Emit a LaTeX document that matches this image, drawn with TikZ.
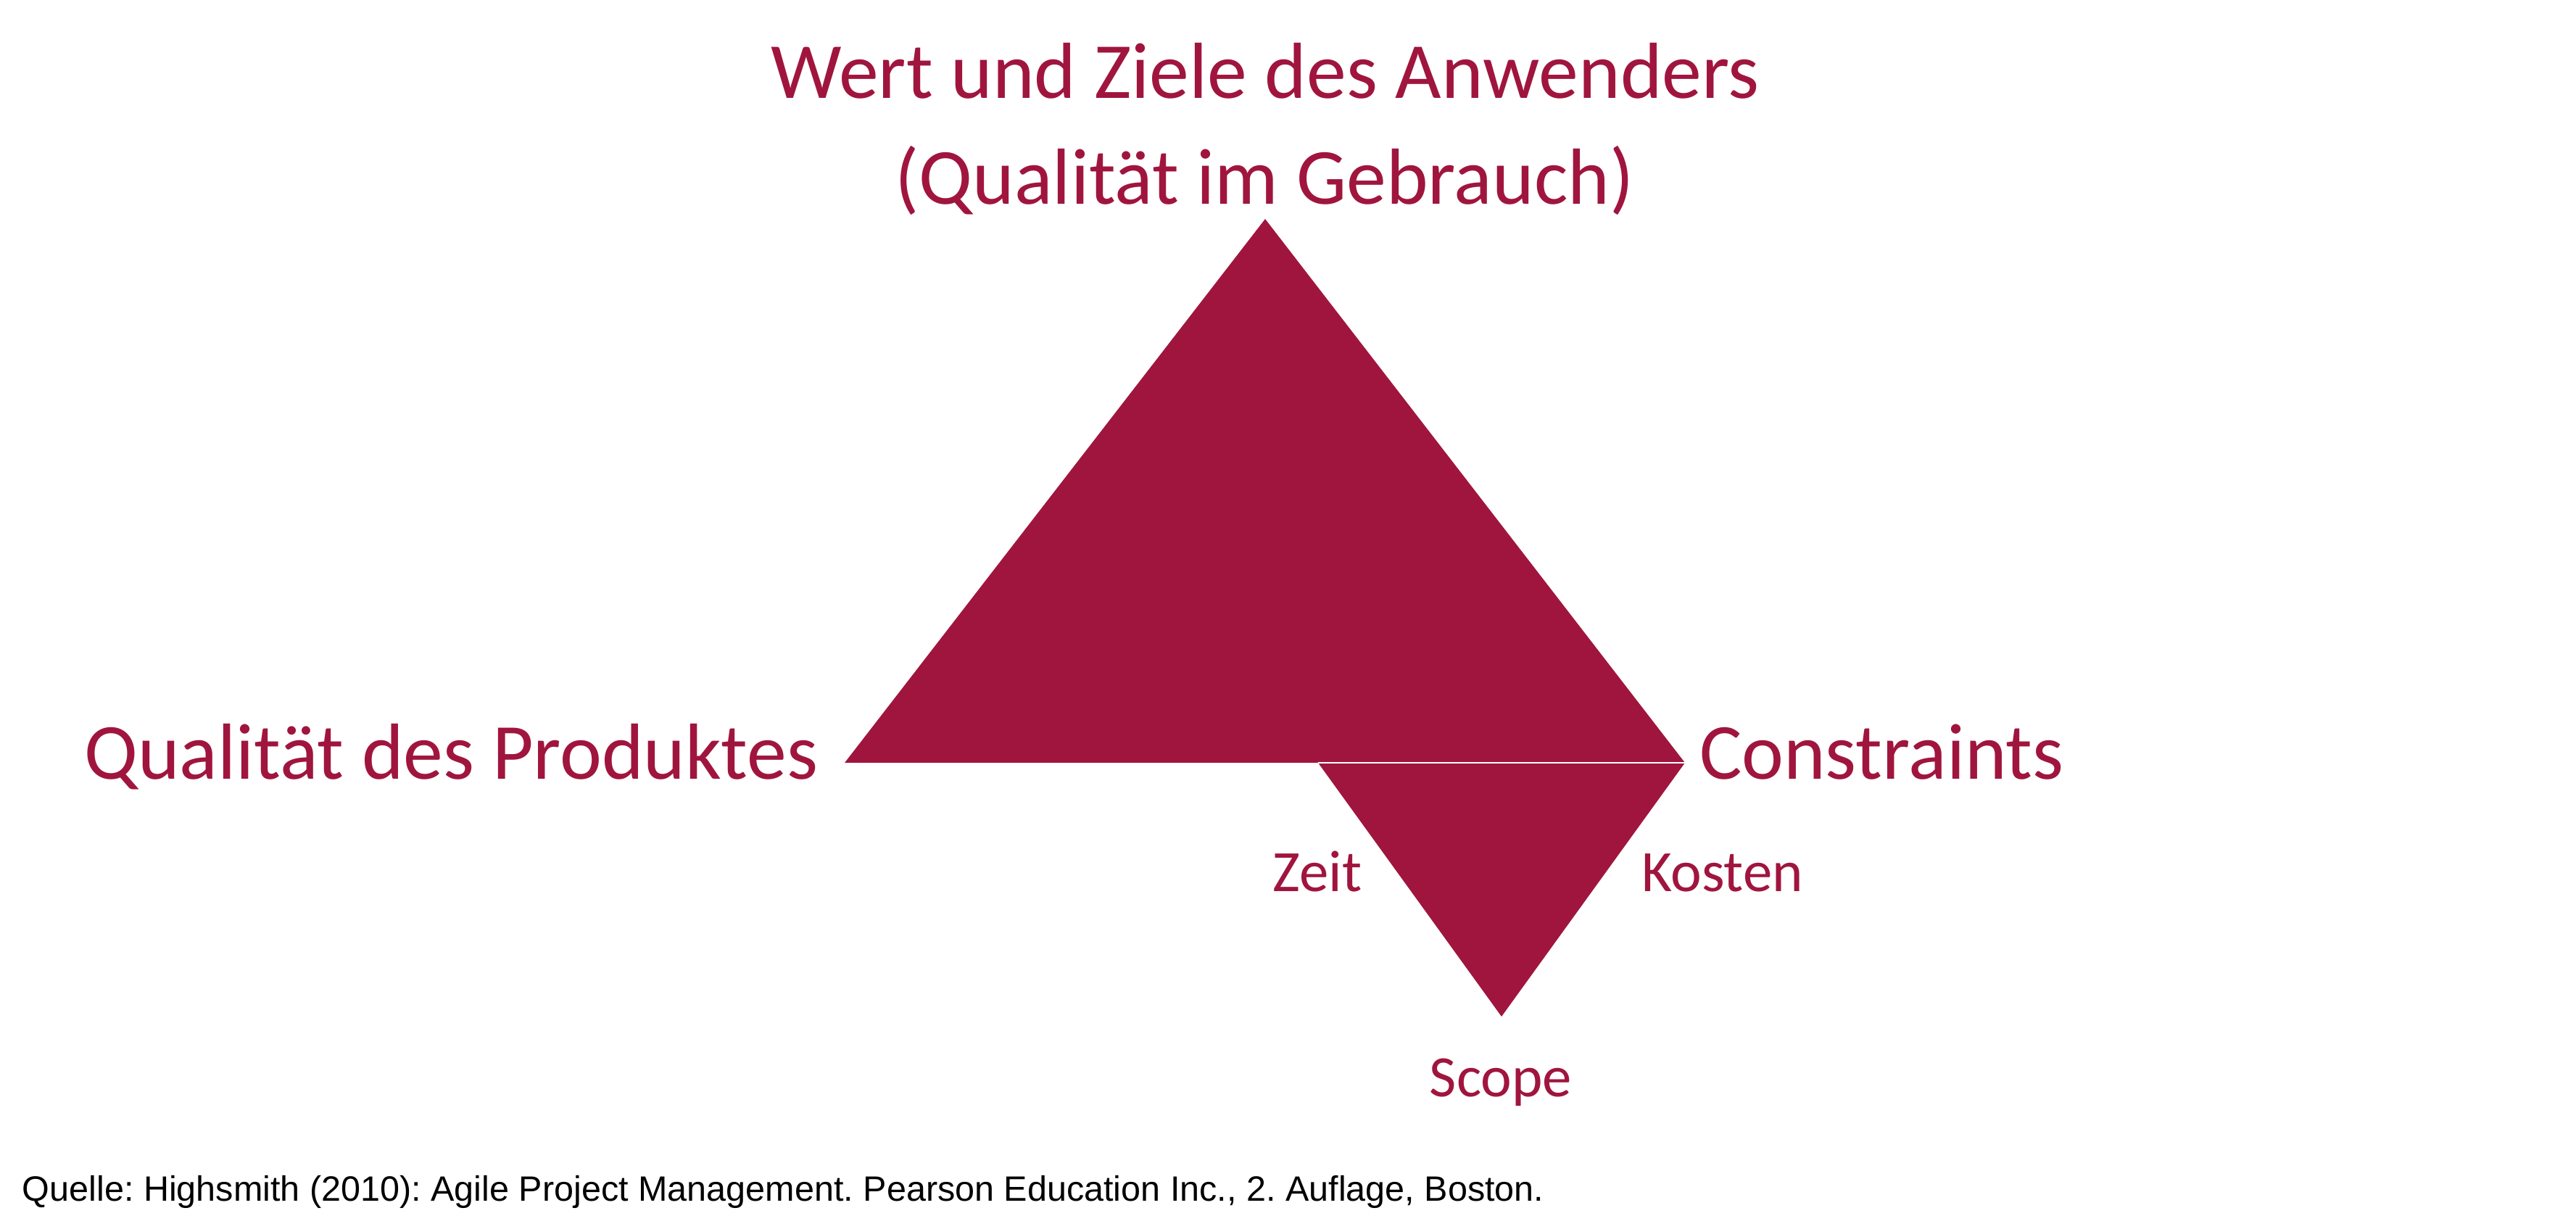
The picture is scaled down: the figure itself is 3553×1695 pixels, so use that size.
\documentclass[tikz,border=0pt]{standalone}
\usepackage{fontspec}
\setmainfont{Carlito}
\newfontfamily\quellefont{Liberation Sans}
\usepackage{tikz}
\definecolor{weinrot}{HTML}{A0153E}
\frenchspacing

\begin{document}
\begin{tikzpicture}[x=0.01cm,y=-0.01cm, every node/.style={inner sep=0,outer sep=0},
  gross/.style={weinrot,anchor=base,font=\fontsize{31.2}{37}\selectfont},
  klein/.style={weinrot,anchor=base,font=\fontsize{23}{28}\selectfont}]

\useasboundingbox (0,0) rectangle (3553,1695);

\coordinate (spitze) at (1745,302);
\coordinate (links) at (1165,1052);
\coordinate (rechts) at (2324,1052);
\coordinate (mitte) at (1818,1052);
\coordinate (unten) at (2071,1402);

\fill [weinrot] (spitze) -- (links) -- (rechts) -- cycle;

\fill [weinrot] (mitte) -- (rechts) -- (unten) -- cycle;

\draw [white,line width=0.5pt] (mitte) -- (rechts);

\node [gross] (wert) at (1745,136) {Wert und Ziele des Anwenders};
\node [gross] (gebrauch) at (1744,282) {(Qualität im Gebrauch)};
\node [gross,anchor=base east] (produkt) at (1128,1075) {Qualität des Produktes};
\node [gross,anchor=base west] (constraints) at (2344,1075) {Constraints};

\node [klein] (zeit) at (1817,1230) {Zeit};
\node [klein,anchor=base west] (kosten) at (2264,1230) {Kosten};
\node [klein] (scope) at (2070,1512) {Scope};

\node [anchor=base west,font=\quellefont\fontsize{13.8}{17}\selectfont] (quelle) at (31,1656) {Quelle: Highsmith (2010): Agile Project Management. Pearson Education Inc., 2. Auflage, Boston.};

\end{tikzpicture}
\end{document}
